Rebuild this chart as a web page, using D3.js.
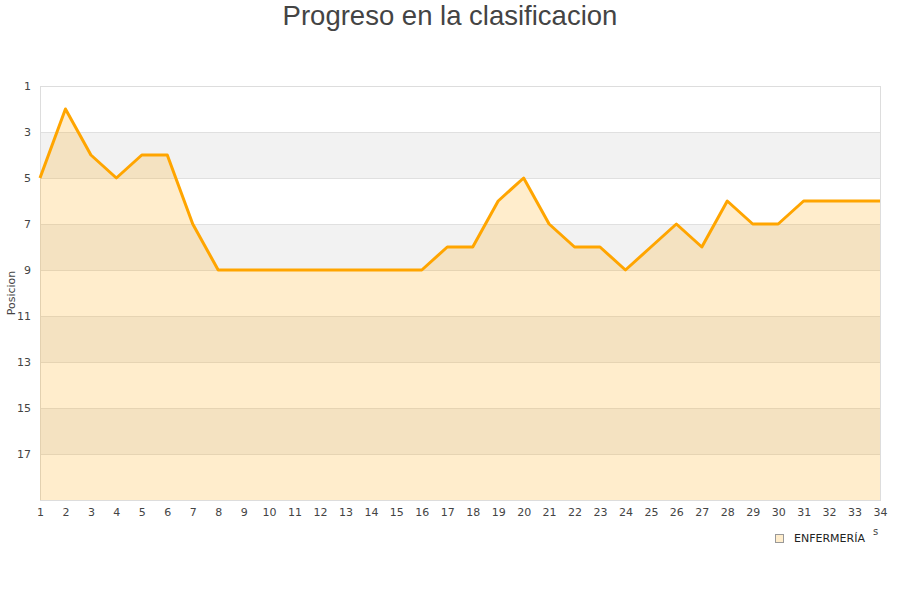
<!DOCTYPE html>
<html><head><meta charset="utf-8">
<script src="https://cdn.jsdelivr.net/npm/d3@7"></script>
<style>body{margin:0;background:#fff}svg{display:block}</style>
</head><body>
<svg id="c" width="900" height="600"></svg>
<script>
const jornadas = d3.range(1, 35);
const posiciones = [5,2,4,5,4,4,7,9,9,9,9,9,9,9,9,9,8,8,6,5,7,8,8,9,8,7,8,6,7,7,6,6,6,6];
const yTicks = [1,3,5,7,9,11,13,15,17];
const seriesName = "ENFERMERÍA";
const title = "Progreso en la clasificacion";
const yLabel = "Posicion";

const svg = d3.select("#c");
const m = {l:40, r:880, t:86, b:500};
const x = d3.scaleLinear().domain([1,34]).range([m.l, m.r]);
const y = d3.scaleLinear().domain([1,19]).range([m.t, m.b]);

// bands
const bands = d3.range(1, 19, 2);
svg.selectAll("rect.band").data(bands).enter().append("rect")
  .attr("x", m.l).attr("width", m.r - m.l)
  .attr("y", d => y(d)).attr("height", d => y(d+2) - y(d))
  .attr("fill", (d,i) => i % 2 ? "#f2f2f2" : "#ffffff");

// grid
svg.selectAll("line.grid").data(yTicks.concat([19])).enter().append("line")
  .attr("x1", m.l).attr("x2", m.r)
  .attr("y1", d => y(d)+0.5).attr("y2", d => y(d)+0.5)
  .attr("stroke", "#e0e0e0").attr("stroke-width", 1);

// border
svg.append("rect").attr("x", m.l+0.5).attr("y", m.t+0.5)
  .attr("width", m.r - m.l).attr("height", m.b - m.t)
  .attr("fill", "none").attr("stroke", "#dddddd");

const data = jornadas.map((j,i) => ({j, p: posiciones[i]}));
svg.append("path").datum(data)
  .attr("d", d3.area().x(d => x(d.j)).y0(y(19)).y1(d => y(d.p)))
  .attr("fill", "rgba(255,165,0,0.2)");
svg.append("path").datum(data)
  .attr("d", d3.line().x(d => x(d.j)).y(d => y(d.p)))
  .attr("fill", "none").attr("stroke", "#ffa500").attr("stroke-width", 3)
  .attr("stroke-linejoin", "round");

// axes
const yAxis = svg.append("g").attr("transform", `translate(${m.l-9},0)`)
  .call(d3.axisLeft(y).tickValues(yTicks).tickSize(0).tickPadding(0));
yAxis.select(".domain").remove();
yAxis.selectAll("text").attr("font-family", "DejaVu Sans").attr("font-size", 11).attr("fill", "#444").attr("dy", "0.32em");

const xAxis = svg.append("g").attr("transform", `translate(0,${m.b+8})`)
  .call(d3.axisBottom(x).tickValues(jornadas).tickFormat(d3.format("d")).tickSize(0).tickPadding(0));
xAxis.select(".domain").remove();
xAxis.selectAll("text").attr("font-family", "DejaVu Sans").attr("font-size", 11).attr("fill", "#444").attr("dy", "0.71em");

svg.append("text").attr("transform", "translate(15,293) rotate(-90)")
  .attr("text-anchor", "middle").attr("font-family", "DejaVu Sans").attr("font-size", 11)
  .attr("fill", "#444").text(yLabel);

svg.append("text").attr("x", 450).attr("y", 25).attr("text-anchor", "middle")
  .attr("font-family", "Liberation Sans, Arial").attr("font-size", 27.5).attr("fill", "#444").text(title);

// legend
svg.append("rect").attr("x", 775.5).attr("y", 534.5).attr("width", 8).attr("height", 8)
  .attr("fill", "#ffedcc").attr("stroke", "#999");
svg.append("text").attr("x", 794).attr("y", 542).attr("font-family", "DejaVu Sans").attr("font-size", 11)
  .attr("fill", "#222").text(seriesName);
svg.append("text").attr("x", 873).attr("y", 535).attr("font-family", "DejaVu Sans").attr("font-size", 10)
  .attr("fill", "#444").text("s");
</script>
</body></html>
